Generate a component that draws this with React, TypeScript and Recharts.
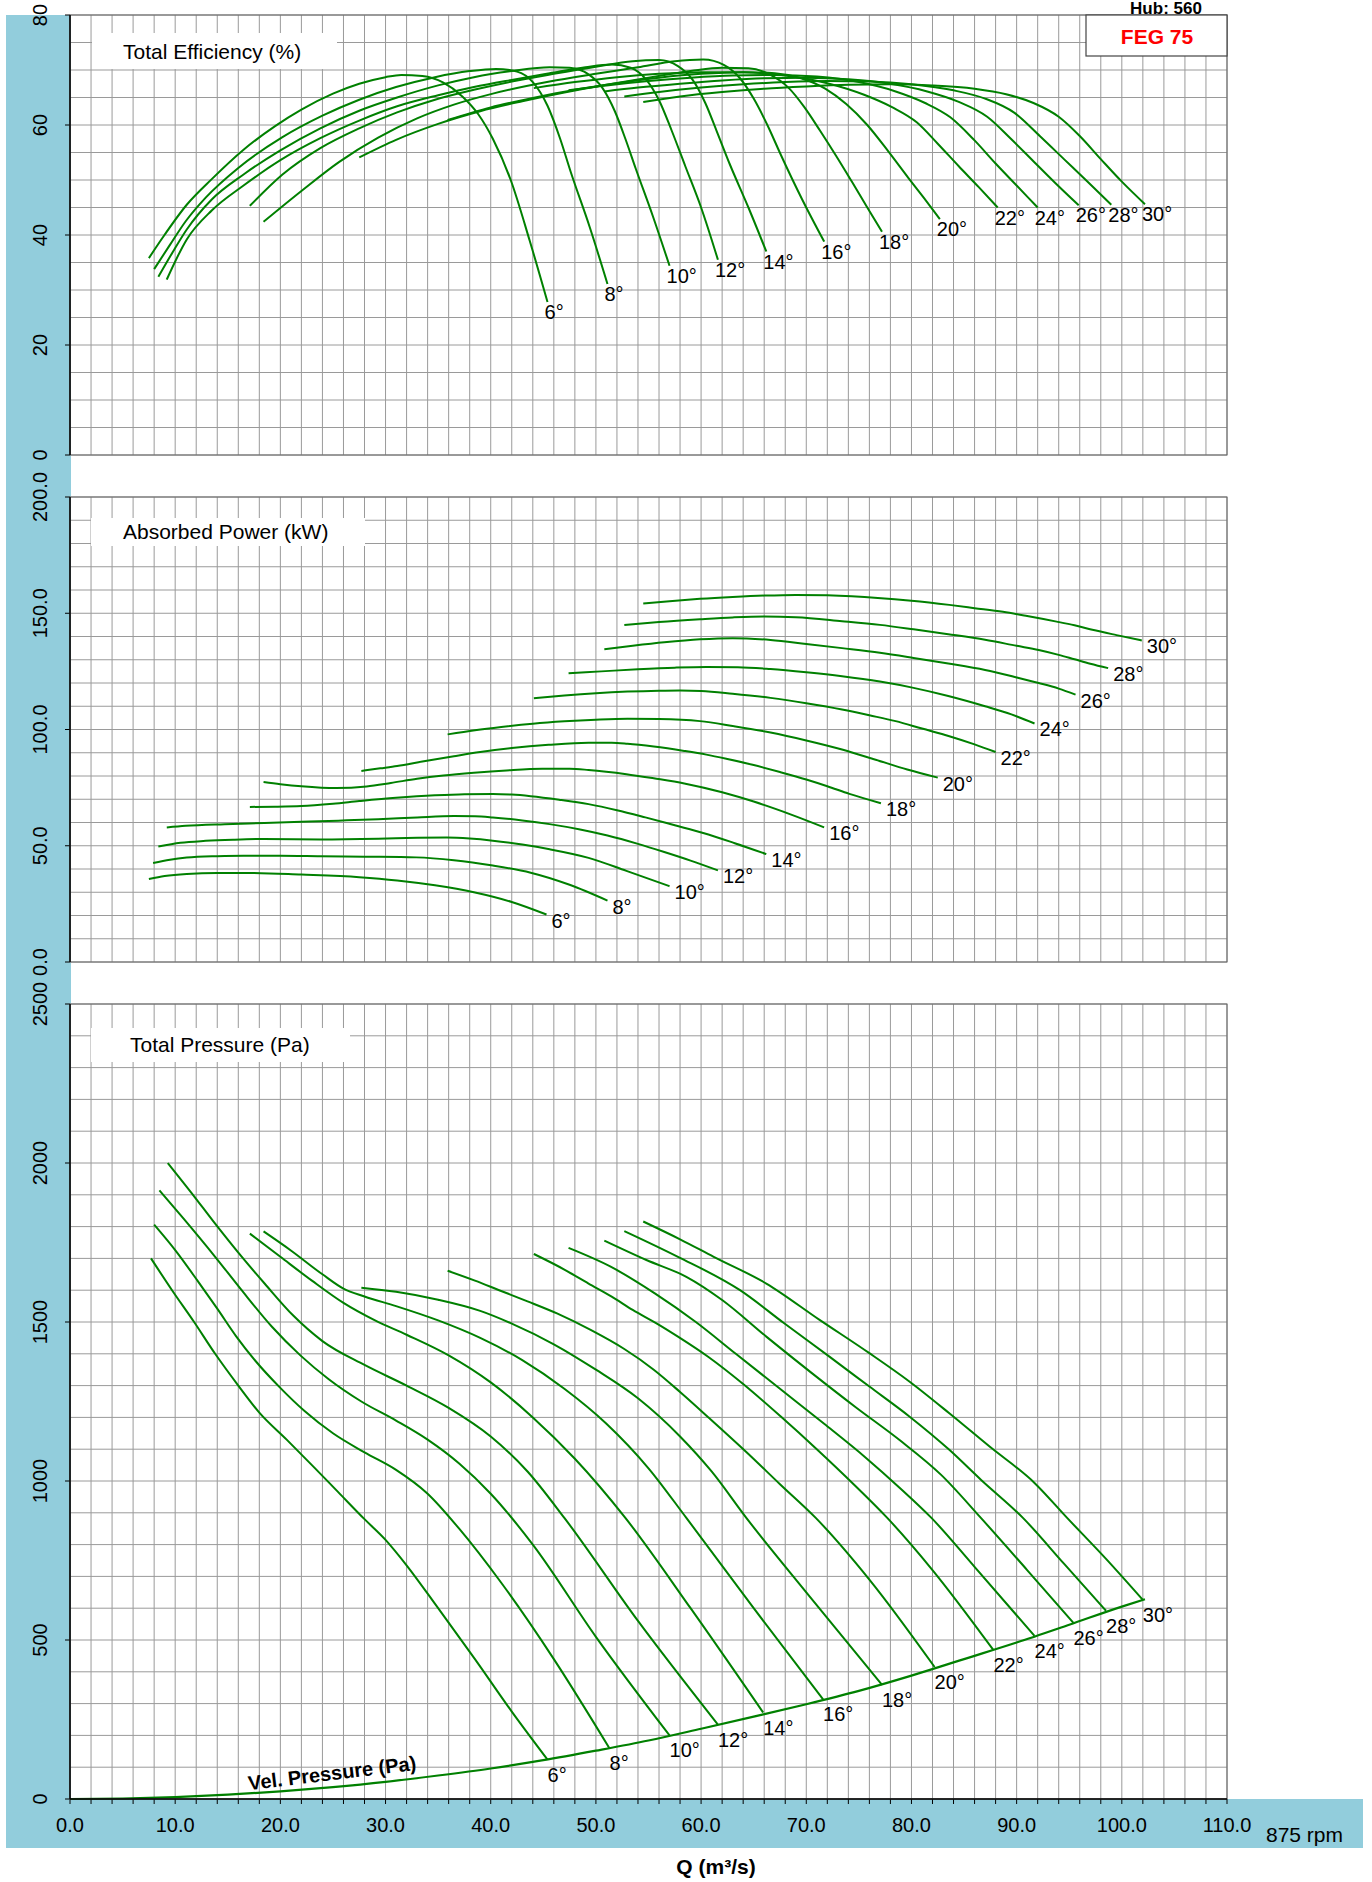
import React from "react";
import { LineChart, Line, XAxis, YAxis, CartesianGrid, LabelList } from "recharts";

const FONT = "'Liberation Sans', Arial, sans-serif";
const GREEN = "#008000";
const BLUE = "#92CDDC";

const ANGLE_LABELS = ["6°", "8°", "10°", "12°", "14°", "16°", "18°", "20°", "22°", "24°", "26°", "28°", "30°"];

const X_GRID_TICKS = Array.from({ length: 56 }, (_, i) => i * 2);
const EFF_TICKS = Array.from({ length: 17 }, (_, i) => i * 5);
const POW_TICKS = Array.from({ length: 21 }, (_, i) => i * 10);
const PRS_TICKS = Array.from({ length: 26 }, (_, i) => i * 100);

// ---------- Total Efficiency (%) : [Q, eff] ----------
const EFF_06 = [[7.5,35.8],[8.8,39.5],[11.1,45.5],[13.5,50.2],[16.5,55.5],[19.5,59.8],[22,62.8],[25,65.7],[27.5,67.5],[30,68.7],[31.5,69.1],[33.5,68.9],[35.5,67.7],[37.3,65.2],[38.8,62],[40.2,57.5],[41.9,50],[43.7,39],[45.4,27.8]];
const EFF_08 = [[8,33.8],[9.5,38.2],[11,42.5],[12.9,46.8],[16,52.2],[20.2,57.8],[24,61.7],[27.5,64.6],[31,66.9],[34.7,68.7],[38,69.8],[40.5,70.2],[42.5,69.7],[44,67.8],[45.4,63.5],[46.6,57.5],[47.6,51.5],[49.4,41.5],[51.1,31.1]];
const EFF_10 = [[8.4,32.4],[9.8,37],[11.1,41],[13.5,46.5],[16.5,51],[20,55.4],[23.8,59.4],[27.5,62.6],[31.1,65],[35,67.2],[38.4,68.7],[42,69.8],[45.6,70.5],[47.5,70.4],[49.3,69.2],[50.6,66.8],[51.8,62.5],[52.8,57.5],[53.8,52],[55.4,43.5],[57,34.4]];
const EFF_12 = [[9.2,31.9],[11.1,39.2],[13.5,44.5],[16.5,49],[20,53.6],[23.8,57.6],[27.5,60.8],[31.1,63.4],[35,65.4],[38.4,66.9],[42,68.2],[45.6,69.4],[49,70.5],[51.5,71],[53.3,70.4],[54.8,68.2],[56,64.5],[57.2,59],[58.5,52.5],[60,45],[61.6,35.5]];
const EFF_14 = [[17.1,45.3],[20.2,51],[23.8,55.8],[27.5,59.4],[31.1,62.3],[34.7,64.6],[38.4,66.4],[42,67.9],[46,69.3],[50,70.6],[53.5,71.6],[56,71.8],[57.8,70.7],[59.2,68.2],[60.4,64],[61.5,58.8],[62.7,53],[64.5,45],[66.2,37]];
const EFF_16 = [[18.4,42.4],[22,48],[25.6,53.3],[29.3,57.7],[33,61.2],[36.5,63.7],[40.2,65.7],[45.6,67.9],[50,69.3],[54,70.5],[57.5,71.6],[60.2,71.9],[62.2,70.9],[63.7,68.5],[65,64.8],[66.3,60],[67.6,54.5],[69.6,46.5],[71.7,38.8]];
const EFF_18 = [[27.5,54.1],[31,57.3],[35,60.2],[39,62.5],[43,64.3],[47,65.9],[51,67.3],[55,68.6],[59,69.8],[62,70.4],[64.5,70.3],[66.5,69.2],[68.3,66.8],[69.8,63.3],[71.3,59],[72.8,54.5],[74.3,49.8],[75.8,45],[77.2,40.6]];
const EFF_20 = [[35.9,60.9],[40,63.2],[44,64.9],[48,66.4],[52,67.6],[56,68.6],[60,69.3],[64,69.6],[67,69.4],[69.5,68.5],[71.8,66.6],[73.8,63.8],[75.8,60],[77.8,55.2],[79.7,50.4],[81.2,46.7],[82.7,42.9]];
const EFF_22 = [[44.1,66.7],[48,67.8],[52,68.7],[56,69.3],[60,69.6],[64,69.6],[68,69],[72,67.6],[75.5,65.5],[78.2,63.2],[80.5,60.5],[82.5,56.6],[84.5,52.5],[86.4,48.7],[88.2,45]];
const EFF_24 = [[47.4,66.3],[51,67.2],[55,68],[59,68.6],[63,69],[67,69.1],[71,68.8],[75,67.8],[78.5,66.1],[81.3,64],[83.7,61.4],[86,57.2],[88,53],[90,49],[92,45]];
const EFF_26 = [[50.8,66.1],[54,66.8],[58,67.5],[62,68.1],[66,68.5],[70,68.6],[74,68.3],[78,67.5],[81.5,66.1],[84.5,64.2],[87.2,61.5],[89.5,57.4],[91.5,53.6],[93.6,49.6],[95.9,45.4]];
const EFF_28 = [[52.7,65.2],[56,66],[60,66.8],[64,67.4],[68,67.8],[72,68],[76,67.9],[80,67.4],[84,66.3],[87,64.8],[89.8,62.2],[92.2,58],[94.5,53.8],[96.8,49.6],[99,45.5]];
const EFF_30 = [[54.5,64.2],[58,65.2],[62,66],[66,66.6],[70,67],[74,67.3],[78,67.4],[82,67.2],[86,66.6],[89,65.6],[91.6,64],[94,61.5],[96,58],[98,53.8],[100,49.7],[102.2,45.6]];

// ---------- Absorbed Power (kW) : [Q, kW] ----------
const POW_06 = [[7.5,35.7],[9,37],[11.1,37.9],[14,38.3],[17,38.3],[22,37.6],[27.5,36.5],[31.1,35.1],[34.7,33],[38.4,30],[42,25.8],[45.3,20.4]];
const POW_08 = [[7.9,42.6],[9.5,44],[11.1,44.9],[14,45.5],[16.5,45.7],[20,45.7],[23.8,45.5],[28,45.3],[32.9,45],[36.5,43.8],[40.2,41.5],[43.8,38.4],[47.5,33.2],[51.1,26.4]];
const POW_10 = [[8.4,49.7],[10.5,51.3],[12.9,52.1],[15.5,52.6],[18.4,52.9],[23.8,52.7],[29.3,53],[33,53.4],[35.8,53.5],[38,53.1],[40.2,52.2],[43,50.5],[45.6,48.5],[49.3,44.8],[52.9,39.2],[57,32.6]];
const POW_12 = [[9.2,57.9],[11,58.6],[14.7,59.3],[18.5,59.8],[22,60.3],[25.5,60.8],[29.3,61.4],[33,62.2],[36.5,62.8],[38.5,62.7],[40.2,62.2],[43,60.9],[45.6,59.3],[48.5,57],[51.1,54.4],[54,50.8],[56.5,47.3],[59,43.6],[61.6,39.4]];
const POW_14 = [[17.1,66.7],[19.5,66.8],[22,67.1],[25,68.1],[27.5,69.2],[31,70.6],[34.7,71.7],[37.5,72.2],[40.2,72.3],[42,72],[43.8,71.3],[46.5,69.8],[49.3,67.9],[52,65.3],[54.7,62.2],[57.5,58.8],[60.2,55.5],[63.2,51.1],[66.2,46.4]];
const POW_16 = [[18.4,77.4],[20,76.5],[22,75.6],[25.3,74.8],[28.2,75.5],[30.5,77],[33,78.8],[35.5,80.2],[38.4,81.4],[41.5,82.4],[44.9,83.1],[47.5,83.1],[49.3,82.6],[52.9,80.8],[55.5,79],[58.4,76.8],[62,73],[65,69],[68.5,63.5],[71.7,57.9]];
const POW_18 = [[27.7,82.2],[29.5,83.3],[31.1,84.3],[33.5,86.2],[36.5,88.5],[39,90.3],[42,92],[45.5,93.4],[49.3,94.3],[51.5,94.3],[53,93.9],[55.5,92.7],[58.4,90.8],[60.5,89.2],[62.5,87.3],[64.9,84.8],[67.5,81.7],[70,78.5],[72,75.6],[74.1,72.3],[77.1,68.3]];
const POW_20 = [[35.9,97.9],[38.5,99.7],[41,101.1],[44,102.5],[47,103.5],[50,104.2],[53,104.6],[56,104.5],[59.9,103.6],[63,101.5],[66.6,98.7],[70,95.3],[73.4,91.4],[76.6,87],[79.6,82.8],[82.5,79.3]];
const POW_22 = [[44.1,113.4],[47,114.6],[50,115.6],[53,116.3],[56,116.7],[58,116.8],[60,116.6],[63,115.4],[66.6,113.6],[70,111.3],[73.4,108.6],[76,106.1],[78.5,103.6],[81,100.4],[83.6,97.1],[86,93.6],[88,90.3]];
const POW_24 = [[47.4,124.2],[50.5,125],[54,125.9],[57.5,126.6],[60.5,126.9],[63.5,126.8],[66.6,126],[70,124.6],[73.4,122.9],[77,120.6],[80.2,117.9],[83.5,114.4],[87,110],[89.5,106.5],[91.7,102.6]];
const POW_26 = [[50.8,134.5],[53.5,136],[56.5,137.5],[59.9,138.8],[63,139.3],[66.6,138.5],[70,136.8],[73.4,135],[77,133],[80.2,130.8],[83.5,128.4],[87,125.6],[90,122.4],[92.1,120],[94,117.6],[95.6,115]];
const POW_28 = [[52.7,144.9],[56,146.2],[59.9,147.4],[63,148.2],[66,148.6],[69,148.3],[73.4,146.6],[77,145],[80.2,143.1],[83.5,141],[87,138.6],[90,136],[92.1,134.2],[94,132.1],[95.5,130.2],[97,128.3],[98.7,126.4]];
const POW_30 = [[54.5,154.2],[57,155.2],[59.9,156.2],[63,157],[66,157.6],[69,157.9],[72,157.7],[76.8,156.6],[80,155.4],[83.6,153.6],[86,152.2],[88.7,150.6],[91,148.8],[93.8,146.4],[95.5,144.8],[97.2,142.9],[99.5,140.6],[101.9,138.3]];

// ---------- Total Pressure (Pa) : [Q, Pa] ----------
const PRS_06 = [[7.7,1700],[9.7,1600],[11.8,1500],[13.8,1400],[16,1300],[18,1215],[20.6,1130],[23,1050],[25.5,965],[28,880],[30,815],[32,735],[35,600],[38.5,440],[42,275],[45.4,124]];
const PRS_08 = [[8,1806],[10,1726],[12.1,1631],[14,1542],[15.8,1455],[17.7,1375],[19.9,1296],[22.3,1220],[25,1150],[28,1090],[31,1035],[34,960],[37,850],[41,680],[46,440],[51.3,159]];
const PRS_10 = [[8.5,1914],[10.8,1825],[13.8,1705],[16.2,1605],[19.2,1485],[21.9,1395],[24.6,1320],[27.7,1250],[31,1190],[34,1130],[37,1055],[40,960],[44,800],[50,510],[57,200]];
const PRS_12 = [[9.3,2000],[11.6,1904],[13.8,1809],[16.2,1710],[18.5,1621],[21.2,1521],[24,1440],[28,1365],[32,1300],[36,1230],[40,1140],[43.5,1030],[47,884],[54,560],[61.6,234]];
const PRS_14 = [[17.1,1778],[20,1705],[23,1630],[26,1560],[29,1505],[32,1460],[36,1395],[40,1310],[44,1200],[48,1070],[52.8,884],[59,600],[65.9,272]];
const PRS_16 = [[18.4,1785],[21,1725],[24,1650],[26,1605],[28,1580],[31,1550],[35,1505],[39,1450],[43,1380],[47,1290],[51,1180],[55,1040],[58.6,884],[65,600],[71.6,313]];
const PRS_18 = [[27.7,1608],[31,1595],[35,1570],[39,1535],[42,1495],[46,1430],[50,1350],[54,1260],[58,1140],[61,1030],[64.3,884],[70,650],[77.2,359]];
const PRS_20 = [[35.9,1661],[38.5,1630],[40.8,1600],[43.5,1565],[46.3,1527],[49.5,1475],[52.7,1415],[55.5,1350],[58,1280],[60.7,1200],[64.5,1085],[67.5,990],[70.9,884],[76,690],[82.2,415]];
const PRS_22 = [[44.1,1714],[47,1665],[49.3,1621],[51.5,1580],[53.5,1538],[55.8,1495],[57.8,1454],[60.7,1390],[64,1305],[67.5,1205],[71,1100],[74.5,990],[77.7,884],[82,720],[87.8,468]];
const PRS_24 = [[47.4,1733],[51.4,1674],[55.6,1590],[59.5,1500],[63.3,1400],[67.5,1290],[71.7,1180],[75.6,1075],[79,975],[81.9,884],[86,730],[91.7,513]];
const PRS_26 = [[50.8,1756],[54.8,1695],[58.6,1642],[62,1569],[66.2,1454],[70.5,1340],[74.7,1232],[78.9,1128],[82.8,1020],[86.6,884],[91,720],[95.4,554]];
const PRS_28 = [[52.7,1786],[57.8,1705],[63.7,1600],[67.9,1496],[72.2,1391],[76,1297],[79.8,1203],[83.6,1098],[86.6,1004],[90.6,884],[94.5,740],[98.5,592]];
const PRS_30 = [[54.5,1816],[58,1760],[61.2,1705],[66.2,1621],[71.3,1506],[76,1402],[79.8,1313],[83.6,1213],[87.4,1109],[91.7,994],[94.8,884],[98.5,755],[102,626]];

// ---------- Velocity pressure (Pa) ----------
const VEL_PRESSURE = [[0,0],[5,1.5],[10,6],[15,13.5],[20,24],[25,37.5],[30,54],[35,74],[40,96],[45,122],[50,152],[55,184],[60,221],[65,259],[70,298],[75,340],[80,388],[85,440],[90,492],[95,548],[100,605],[102.2,628]];
const VEL_LABEL_Q = 25;

const EFF_SERIES = [EFF_06, EFF_08, EFF_10, EFF_12, EFF_14, EFF_16, EFF_18, EFF_20, EFF_22, EFF_24, EFF_26, EFF_28, EFF_30];
const POW_SERIES = [POW_06, POW_08, POW_10, POW_12, POW_14, POW_16, POW_18, POW_20, POW_22, POW_24, POW_26, POW_28, POW_30];
const PRS_SERIES = [PRS_06, PRS_08, PRS_10, PRS_12, PRS_14, PRS_16, PRS_18, PRS_20, PRS_22, PRS_24, PRS_26, PRS_28, PRS_30];

// ---------- layout ----------
const W = 1372;
const PLOT_L = 70;
const PLOT_R = 1227;
const EFF_TOP = 15, EFF_BOT = 455;
const POW_TOP = 497, POW_BOT = 962;
const PRS_TOP = 1004, PRS_BOT = 1799;
const M_TOP = 40;

const toPts = (arr: number[][], lab?: string) =>
  arr.map(([q, v], i) => ({ q, v, lab: i === arr.length - 1 ? lab : undefined }));

const endLabel = (dx: number, dy: number) => (p: any) => {
  if (p.value === undefined || p.value === null || p.value === "") return null;
  const x = p.x ?? p.viewBox?.x;
  const y = p.y ?? p.viewBox?.y;
  return (
    <text x={x + dx} y={y + dy} fontSize={20} fontFamily={FONT} fill="#000">
      {p.value}
    </text>
  );
};

const velLabel = (p: any) => {
  if (p.value === undefined || p.value === null || p.value === "") return null;
  const x = p.x ?? p.viewBox?.x;
  const y = (p.y ?? p.viewBox?.y) - 7;
  return (
    <text x={x} y={y} transform={`rotate(-7 ${x} ${y})`} textAnchor="middle" fontSize={20}
      fontWeight="bold" fontFamily={FONT} fill="#000">
      {p.value}
    </text>
  );
};

const makeYTick = (isMajor: (v: number) => boolean, fmt: (v: number) => string) => (p: any) => {
  const v = p.payload.value;
  if (!isMajor(v)) return <g />;
  const y = p.y;
  return (
    <g>
      <line x1={PLOT_L - 5} x2={PLOT_L} y1={y} y2={y} stroke="#000" strokeWidth={1} />
      <text transform={`translate(${PLOT_L - 23},${y}) rotate(-90)`} textAnchor="middle"
        fontSize={20} fontFamily={FONT} fill="#000">
        {fmt(v)}
      </text>
    </g>
  );
};

const emptyTick = () => <g />;

const prsXTick = (p: any) => {
  const v = p.payload.value;
  const x = p.x;
  const yb = M_TOP + (PRS_BOT - PRS_TOP);
  return (
    <g>
      <line x1={x} x2={x} y1={yb} y2={yb + 5} stroke="#000" strokeWidth={1} />
      {v % 10 === 0 ? (
        <text x={x} y={yb + 33} textAnchor="middle" fontSize={20} fontFamily={FONT} fill="#000">
          {v.toFixed(1)}
        </text>
      ) : null}
    </g>
  );
};

const gridProps = { stroke: "#9a9a9a", strokeWidth: 1 };

function curveLines(series: number[][][], dx: number, dy: number, prefix: string) {
  return series.map((s, i) => (
    <Line key={prefix + i} data={toPts(s, ANGLE_LABELS[i])} dataKey="v" type="monotone"
      stroke={GREEN} strokeWidth={2} dot={false} activeDot={false} isAnimationActive={false}>
      <LabelList dataKey="lab" content={endLabel(dx, dy)} />
    </Line>
  ));
}

const velPts = VEL_PRESSURE.map(([q, v]) => ({ q, v, lab: q === VEL_LABEL_Q ? "Vel. Pressure (Pa)" : undefined }));

export default function App() {
  const effH = EFF_BOT - EFF_TOP;
  const powH = POW_BOT - POW_TOP;
  const prsH = PRS_BOT - PRS_TOP;
  return (
    <div style={{ position: "absolute", left: 0, top: 0, width: W, height: 1882, background: "#fff", fontFamily: FONT, overflow: "hidden" }}>
      {/* blue bands */}
      <div style={{ position: "absolute", left: 6, top: 15, width: PLOT_L - 6 + 1, height: 1848 - 15, background: BLUE }} />
      <div style={{ position: "absolute", left: 6, top: PRS_BOT, width: 1363 - 6, height: 1848 - PRS_BOT, background: BLUE }} />

      {/* Efficiency */}
      <div style={{ position: "absolute", left: 0, top: EFF_TOP - M_TOP }}>
        <LineChart width={W} height={M_TOP + effH + 20} margin={{ top: M_TOP, right: W - PLOT_R, bottom: 18, left: 6 }}>
          <CartesianGrid {...gridProps} />
          <XAxis type="number" dataKey="q" domain={[0, 110]} ticks={X_GRID_TICKS} interval={0}
            tick={emptyTick} tickLine={false} axisLine={false} height={2} />
          <YAxis type="number" domain={[0, 80]} ticks={EFF_TICKS} interval={0} width={64}
            tick={makeYTick((v) => v % 20 === 0, (v) => String(v))} tickLine={false} axisLine={false} />
          {curveLines(EFF_SERIES, -3, 17, "e")}
        </LineChart>
      </div>

      {/* Power */}
      <div style={{ position: "absolute", left: 0, top: POW_TOP - M_TOP }}>
        <LineChart width={W} height={M_TOP + powH + 20} margin={{ top: M_TOP, right: W - PLOT_R, bottom: 18, left: 6 }}>
          <CartesianGrid {...gridProps} />
          <XAxis type="number" dataKey="q" domain={[0, 110]} ticks={X_GRID_TICKS} interval={0}
            tick={emptyTick} tickLine={false} axisLine={false} height={2} />
          <YAxis type="number" domain={[0, 200]} ticks={POW_TICKS} interval={0} width={64}
            tick={makeYTick((v) => v % 50 === 0, (v) => v.toFixed(1))} tickLine={false} axisLine={false} />
          {curveLines(POW_SERIES, 5, 13, "p")}
        </LineChart>
      </div>

      {/* Pressure */}
      <div style={{ position: "absolute", left: 0, top: PRS_TOP - M_TOP }}>
        <LineChart width={W} height={M_TOP + prsH + 60} margin={{ top: M_TOP, right: W - PLOT_R, bottom: 10, left: 6 }}>
          <CartesianGrid {...gridProps} />
          <XAxis type="number" dataKey="q" domain={[0, 110]} ticks={X_GRID_TICKS} interval={0}
            tick={prsXTick} tickLine={false} axisLine={false} height={50} />
          <YAxis type="number" domain={[0, 2500]} ticks={PRS_TICKS} interval={0} width={64}
            tick={makeYTick((v) => v % 500 === 0, (v) => String(v))} tickLine={false} axisLine={false} />
          {curveLines(PRS_SERIES, 0, 22, "r")}
          <Line data={velPts} dataKey="v" type="monotone" stroke={GREEN} strokeWidth={2.2}
            dot={false} activeDot={false} isAnimationActive={false}>
            <LabelList dataKey="lab" content={velLabel} />
          </Line>
        </LineChart>
      </div>

      {/* overlay: borders, titles, annotations */}
      <svg width={W} height={1882} style={{ position: "absolute", left: 0, top: 0, pointerEvents: "none" }}>
        {[[EFF_TOP, EFF_BOT], [POW_TOP, POW_BOT], [PRS_TOP, PRS_BOT]].map(([t, b], i) => (
          <g key={i}>
            <rect x={PLOT_L} y={t} width={PLOT_R - PLOT_L} height={b - t} fill="none" stroke="#666" strokeWidth={1} />
            <line x1={PLOT_L} x2={PLOT_L} y1={t} y2={b} stroke="#000" strokeWidth={1.5} />
          </g>
        ))}
        <line x1={PLOT_L} x2={PLOT_R} y1={PRS_BOT} y2={PRS_BOT} stroke="#000" strokeWidth={1.5} />

        <rect x={92} y={33} width={245} height={36} fill="#fff" />
        <text x={123} y={59} fontSize={21} fontFamily={FONT} fill="#000">Total Efficiency (%)</text>

        <rect x={91} y={518} width={274} height={28} fill="#fff" />
        <text x={123} y={539} fontSize={21} fontFamily={FONT} fill="#000">Absorbed Power (kW)</text>

        <rect x={91} y={1028} width={259} height={34} fill="#fff" />
        <text x={130} y={1052} fontSize={21} fontFamily={FONT} fill="#000">Total Pressure (Pa)</text>

        <text x={1166} y={14} textAnchor="middle" fontSize={17} fontWeight="bold" fontFamily={FONT} fill="#000">Hub: 560</text>
        <rect x={1086} y={15} width={141} height={41} fill="#fff" stroke="#444" strokeWidth={1.2} />
        <text x={1157} y={44} textAnchor="middle" fontSize={21} fontWeight="bold" fontFamily={FONT} fill="#ff0000">FEG 75</text>

        <text x={1266} y={1842} fontSize={21} fontFamily={FONT} fill="#000">875 rpm</text>
        <text x={716} y={1874} textAnchor="middle" fontSize={21} fontWeight="bold" fontFamily={FONT} fill="#000">Q (m³/s)</text>
      </svg>
    </div>
  );
}
